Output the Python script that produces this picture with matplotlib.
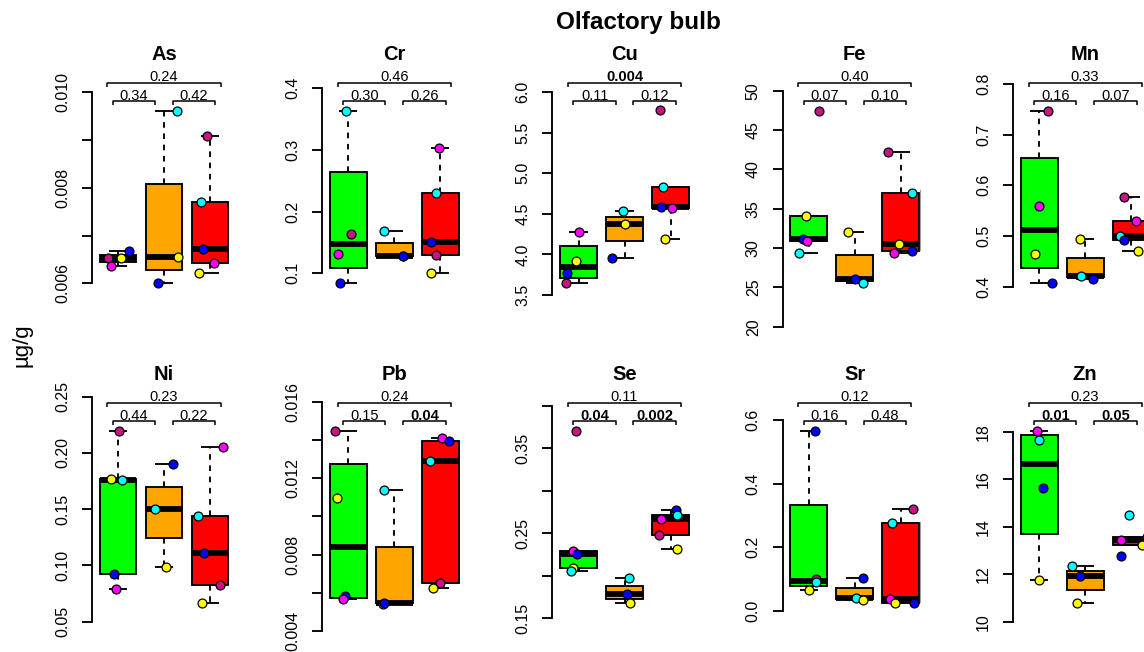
import numpy as np
import matplotlib
matplotlib.use("Agg")
import matplotlib.pyplot as plt
from matplotlib.patches import Rectangle
from matplotlib.lines import Line2D
from matplotlib.transforms import blended_transform_factory

plt.rcParams["font.family"] = ["Liberation Sans", "DejaVu Sans"]

# ---------------------------------------------------------------- data
# animal colours used for the individual points
MV, MG, YL, CY, BL = "#C71585", "#FF00FF", "#FFFF00", "#00FFFF", "#0000FF"
group_fill = ["#00FF00", "#FFA500", "#FF0000"]

elements = ["As", "Cr", "Cu", "Fe", "Mn", "Ni", "Pb", "Se", "Sr", "Zn"]

As_values = [[0.00652, 0.00637, 0.00652, 0.00668],
             [0.00961, 0.00656, 0.00601],
             [0.00909, 0.00771, 0.00671, 0.00643, 0.00622]]
As_colors = [[MV, MG, YL, BL], [CY, YL, BL], [MV, CY, BL, MG, YL]]
As_jitter = [[-0.21, -0.15, 0.07, 0.24], [0.28, 0.30, -0.13], [-0.07, -0.20, -0.16, 0.09, -0.24]]
As_pvalues = ["0.24", "0.34", "0.42"]

Cr_values = [[0.364, 0.164, 0.132, 0.085],
             [0.128, 0.169, 0.128],
             [0.303, 0.231, 0.150, 0.130, 0.100]]
Cr_colors = [[CY, MV, MG, BL], [YL, CY, BL], [MG, CY, BL, MV, YL]]
Cr_jitter = [[-0.05, 0.07, -0.23, -0.17], [0.20, -0.23, 0.20], [-0.03, -0.09, -0.21, -0.09, -0.19]]
Cr_pvalues = ["0.46", "0.30", "0.26"]

Cu_values = [[4.281, 3.915, 3.767, 3.652],
             [4.54, 4.375, 3.96],
             [5.778, 4.836, 4.581, 4.573, 4.19]]
Cu_colors = [[MG, YL, BL, MV], [CY, YL, BL], [MV, CY, BL, MG, YL]]
Cu_jitter = [[0.02, -0.06, -0.26, -0.28], [-0.04, 0.0, -0.27], [-0.23, -0.17, -0.20, 0.03, -0.13]]
Cu_pvalues = ["0.004", "0.11", "0.12"]

Fe_values = [[47.46, 34.11, 31.19, 30.86, 29.41],
             [32.04, 26.1, 25.55],
             [42.25, 37.0, 30.47, 29.41, 29.63]]
Fe_colors = [[MV, YL, BL, MG, CY], [YL, BL, CY], [MV, CY, YL, MG, BL]]
Fe_jitter = [[0.23, -0.06, -0.12, -0.04, -0.22], [-0.15, 0.0, 0.17], [-0.27, 0.25, -0.04, -0.14, 0.24]]
Fe_pvalues = ["0.40", "0.07", "0.10"]

Mn_values = [[0.7473, 0.5598, 0.4651, 0.4079],
             [0.4941, 0.4211, 0.4152],
             [0.5764, 0.5296, 0.5006, 0.4921, 0.471]]
Mn_colors = [[MV, MG, YL, BL], [YL, CY, BL], [MV, MG, CY, BL, YL]]
Mn_jitter = [[0.19, 0.0, -0.08, 0.28], [-0.12, -0.09, 0.17], [-0.16, 0.11, -0.24, -0.15, 0.14]]
Mn_pvalues = ["0.33", "0.16", "0.07"]

Ni_values = [[0.2195, 0.1768, 0.1762, 0.0924, 0.0788],
             [0.1899, 0.1499, 0.0986],
             [0.2056, 0.1442, 0.1111, 0.0824, 0.0663]]
Ni_colors = [[MV, YL, CY, BL, MG], [BL, CY, YL], [MG, CY, BL, MV, YL]]
Ni_jitter = [[0.03, -0.15, 0.08, -0.08, -0.04], [0.19, -0.19, 0.04], [0.29, -0.27, -0.12, 0.22, -0.18]]
Ni_pvalues = ["0.23", "0.44", "0.22"]

Pb_values = [[0.014492, 0.010986, 0.00582, 0.005647],
             [0.00541, 0.011375, 0.005468],
             [0.01414, 0.013966, 0.012931, 0.006488, 0.006256]]
Pb_colors = [[MV, YL, BL, MG], [YL, CY, BL], [MG, BL, CY, MV, YL]]
Pb_jitter = [[-0.29, -0.24, -0.08, -0.12], [-0.25, -0.22, -0.23], [0.04, 0.20, -0.23, 0.0, -0.15]]
Pb_pvalues = ["0.24", "0.15", "0.04"]

Se_values = [[0.3704, 0.2292, 0.2256, 0.2088, 0.2056],
             [0.1978, 0.1782, 0.1676],
             [0.2778, 0.2719, 0.2668, 0.2476, 0.2312]]
Se_colors = [[MV, MG, BL, YL, CY], [CY, BL, YL], [BL, CY, MG, MV, YL]]
Se_jitter = [[-0.06, -0.11, -0.04, -0.11, -0.16], [0.09, 0.05, 0.12], [0.12, 0.13, -0.20, -0.25, 0.13]]
Se_pvalues = ["0.11", "0.04", "0.002"]

Sr_values = [[0.5654, 0.0995, 0.0901, 0.0659],
             [0.1036, 0.0417, 0.0345],
             [0.3204, 0.2754, 0.0367, 0.0241, 0.026]]
Sr_colors = [[BL, MV, CY, YL], [BL, CY, YL], [MV, CY, MG, YL, BL]]
Sr_jitter = [[0.14, 0.15, 0.15, 0.0], [0.17, 0.03, 0.17], [0.27, -0.19, -0.24, -0.13, 0.28]]
Sr_pvalues = ["0.12", "0.16", "0.48"]

Zn_values = [[18.04, 17.65, 15.62, 11.76],
             [12.345, 11.92, 10.77],
             [14.505, 13.43, 13.25, 12.78, 13.56]]
Zn_colors = [[MG, CY, BL, YL], [CY, BL, YL], [CY, MG, YL, BL, MV]]
Zn_jitter = [[-0.05, 0.0, 0.09, 0.0], [-0.28, -0.11, -0.17], [-0.05, -0.21, 0.24, -0.22, 0.34]]
Zn_pvalues = ["0.23", "0.01", "0.05"]

# y-axis ticks and which of them carry a label
As_ticks = [0.006, 0.007, 0.008, 0.009, 0.010]
As_ticklabels = ["0.006", "", "0.008", "", "0.010"]
Cr_ticks = [0.1, 0.2, 0.3, 0.4]
Cr_ticklabels = ["0.1", "0.2", "0.3", "0.4"]
Cu_ticks = [3.5, 4.0, 4.5, 5.0, 5.5, 6.0]
Cu_ticklabels = ["3.5", "4.0", "4.5", "5.0", "5.5", "6.0"]
Fe_ticks = [20, 25, 30, 35, 40, 45, 50]
Fe_ticklabels = ["20", "25", "30", "35", "40", "45", "50"]
Mn_ticks = [0.4, 0.5, 0.6, 0.7, 0.8]
Mn_ticklabels = ["0.4", "0.5", "0.6", "0.7", "0.8"]
Ni_ticks = [0.05, 0.10, 0.15, 0.20, 0.25]
Ni_ticklabels = ["0.05", "0.10", "0.15", "0.20", "0.25"]
Pb_ticks = [0.004, 0.006, 0.008, 0.010, 0.012, 0.014, 0.016]
Pb_ticklabels = ["0.004", "", "0.008", "", "0.012", "", "0.016"]
Se_ticks = [0.15, 0.20, 0.25, 0.30, 0.35, 0.40]
Se_ticklabels = ["0.15", "", "0.25", "", "0.35", ""]
Sr_ticks = [0.0, 0.2, 0.4, 0.6]
Sr_ticklabels = ["0.0", "0.2", "0.4", "0.6"]
Zn_ticks = [10, 12, 14, 16, 18]
Zn_ticklabels = ["10", "12", "14", "16", "18"]

panel_data = {
    "As": (As_values, As_colors, As_jitter, As_pvalues, As_ticks, As_ticklabels),
    "Cr": (Cr_values, Cr_colors, Cr_jitter, Cr_pvalues, Cr_ticks, Cr_ticklabels),
    "Cu": (Cu_values, Cu_colors, Cu_jitter, Cu_pvalues, Cu_ticks, Cu_ticklabels),
    "Fe": (Fe_values, Fe_colors, Fe_jitter, Fe_pvalues, Fe_ticks, Fe_ticklabels),
    "Mn": (Mn_values, Mn_colors, Mn_jitter, Mn_pvalues, Mn_ticks, Mn_ticklabels),
    "Ni": (Ni_values, Ni_colors, Ni_jitter, Ni_pvalues, Ni_ticks, Ni_ticklabels),
    "Pb": (Pb_values, Pb_colors, Pb_jitter, Pb_pvalues, Pb_ticks, Pb_ticklabels),
    "Se": (Se_values, Se_colors, Se_jitter, Se_pvalues, Se_ticks, Se_ticklabels),
    "Sr": (Sr_values, Sr_colors, Sr_jitter, Sr_pvalues, Sr_ticks, Sr_ticklabels),
    "Zn": (Zn_values, Zn_colors, Zn_jitter, Zn_pvalues, Zn_ticks, Zn_ticklabels),
}

# ---------------------------------------------------------------- layout
FIG_W, FIG_H = 1144, 652
DPI = 100
SPINE_X0, PANEL_DX = 91.7, 230.3     # px
ROW_TOP = [75, 395]                   # px
ROW_H = 260                           # px
XLIM = (0.43, 3.57)
UNIT_PX = 46.0
AX_W = (XLIM[1] - XLIM[0]) * UNIT_PX

# y-limits of each panel's plotting region
ylims = {
    "As": (0.004917, 0.010362), "Cr": (0.0, 0.42157), "Cu": (3.0063, 6.2134),
    "Fe": (18.946, 51.996), "Mn": (0.30464, 0.8178),
    "Ni": (0.0204, 0.25151), "Pb": (0.00272, 0.016384), "Se": (0.10682, 0.41271),
    "Sr": (-0.1383, 0.67854), "Zn": (8.598, 19.545),
}

LW = 1.35        # box / axis line width (pt)
MED_LW = 4.2     # median line width (pt)
BR_TOP = 1 - 7.7 / ROW_H     # bracket heights in axes fraction
BR_LOW = 1 - 26.0 / ROW_H
BR_DROP = 4.0 / ROW_H


def five_num(vals):
    x = np.sort(np.asarray(vals, float))
    n = len(x)
    n4 = np.floor((n + 3) / 2) / 2
    d = np.array([1, n4, (n + 1) / 2, n + 1 - n4, n]) - 1
    return 0.5 * (x[np.floor(d).astype(int)] + x[np.ceil(d).astype(int)])


def box_stats(vals):
    x = np.asarray(vals, float)
    s = five_num(x)
    iqr = s[3] - s[1]
    lo = x[x >= s[1] - 1.5 * iqr].min()
    hi = x[x <= s[3] + 1.5 * iqr].max()
    return lo, s[1], s[2], s[3], hi


def draw_box(ax, pos, vals, fill):
    lo, q1, med, q3, hi = box_stats(vals)
    hw = 0.4
    dash = (0, (3, 3))
    ax.plot([pos, pos], [q3, hi], color="black", lw=LW, ls=dash, zorder=2)
    ax.plot([pos, pos], [q1, lo], color="black", lw=LW, ls=dash, zorder=2)
    for v in (lo, hi):
        ax.plot([pos - 0.2, pos + 0.2], [v, v], color="black", lw=LW,
                solid_capstyle="butt", zorder=2)
    ax.add_patch(Rectangle((pos - hw, q1), 2 * hw, q3 - q1, facecolor=fill,
                           edgecolor="black", lw=LW, zorder=3))
    ax.plot([pos - hw, pos + hw], [med, med], color="black", lw=MED_LW,
            solid_capstyle="butt", zorder=4)


def bracket(ax, x1, x2, yf, label):
    trans = blended_transform_factory(ax.transData, ax.transAxes)
    ax.plot([x1, x1, x2, x2], [yf - BR_DROP, yf, yf, yf - BR_DROP],
            transform=trans, color="black", lw=1.1, clip_on=False,
            solid_capstyle="butt")
    bold = float(label) <= 0.05
    ax.text((x1 + x2) / 2, yf + 1.5 / ROW_H, label, transform=trans,
            ha="center", va="baseline", fontsize=10.5,
            fontweight="bold" if bold else "normal")


fig = plt.figure(figsize=(FIG_W / DPI, FIG_H / DPI), dpi=DPI)

for i, el in enumerate(elements):
    row, col = divmod(i, 5)
    values, colors, jitter, pvals, ticks, ticklabels = panel_data[el]
    left = SPINE_X0 + PANEL_DX * col
    top = ROW_TOP[row]
    ax = fig.add_axes([left / FIG_W, 1 - (top + ROW_H) / FIG_H,
                       AX_W / FIG_W, ROW_H / FIG_H])
    ax.set_xlim(*XLIM)
    ax.set_ylim(*ylims[el])
    ax.patch.set_alpha(0)

    for g in range(3):
        pos = g + 1
        draw_box(ax, pos, values[g], group_fill[g])
        for v, c, j in zip(values[g], colors[g], jitter[g]):
            ax.plot(pos + j, v, "o", ms=6.4, mfc=c, mec="black", mew=0.9,
                    zorder=6, clip_on=False)

    for s in ("top", "right", "bottom"):
        ax.spines[s].set_visible(False)
    ax.spines["left"].set_bounds(ticks[0], ticks[-1])
    ax.spines["left"].set_linewidth(LW)
    ax.set_xticks([])
    ax.set_yticks(ticks)
    ax.set_yticklabels(ticklabels, rotation=90, va="center", fontsize=11.5)
    ax.tick_params(axis="y", length=7.2, width=LW, pad=8.5)

    bracket(ax, 0.77, 3.23, BR_TOP, pvals[0])
    bracket(ax, 0.89, 1.81, BR_LOW, pvals[1])
    bracket(ax, 2.19, 3.12, BR_LOW, pvals[2])

    ax.text(2, 1.059, el, transform=blended_transform_factory(ax.transData, ax.transAxes),
            ha="center", va="baseline", fontsize=14.5, fontweight="bold")

# thin grey rules between the fourth and fifth columns
for y0, y1 in ((190, 250), (522, 602)):
    fig.add_artist(Line2D([920.5 / FIG_W] * 2, [1 - y0 / FIG_H, 1 - y1 / FIG_H],
                          color="#a0a0a0", lw=0.8))

fig.text(638 / FIG_W, 1 - 29 / FIG_H, "Olfactory bulb", ha="center",
         va="baseline", fontsize=17.5, fontweight="bold")
fig.text(22 / FIG_W, 1 - 345 / FIG_H, "µg/g", rotation=90, ha="center",
         va="center", fontsize=16)

fig.savefig("out.png", dpi=DPI)
